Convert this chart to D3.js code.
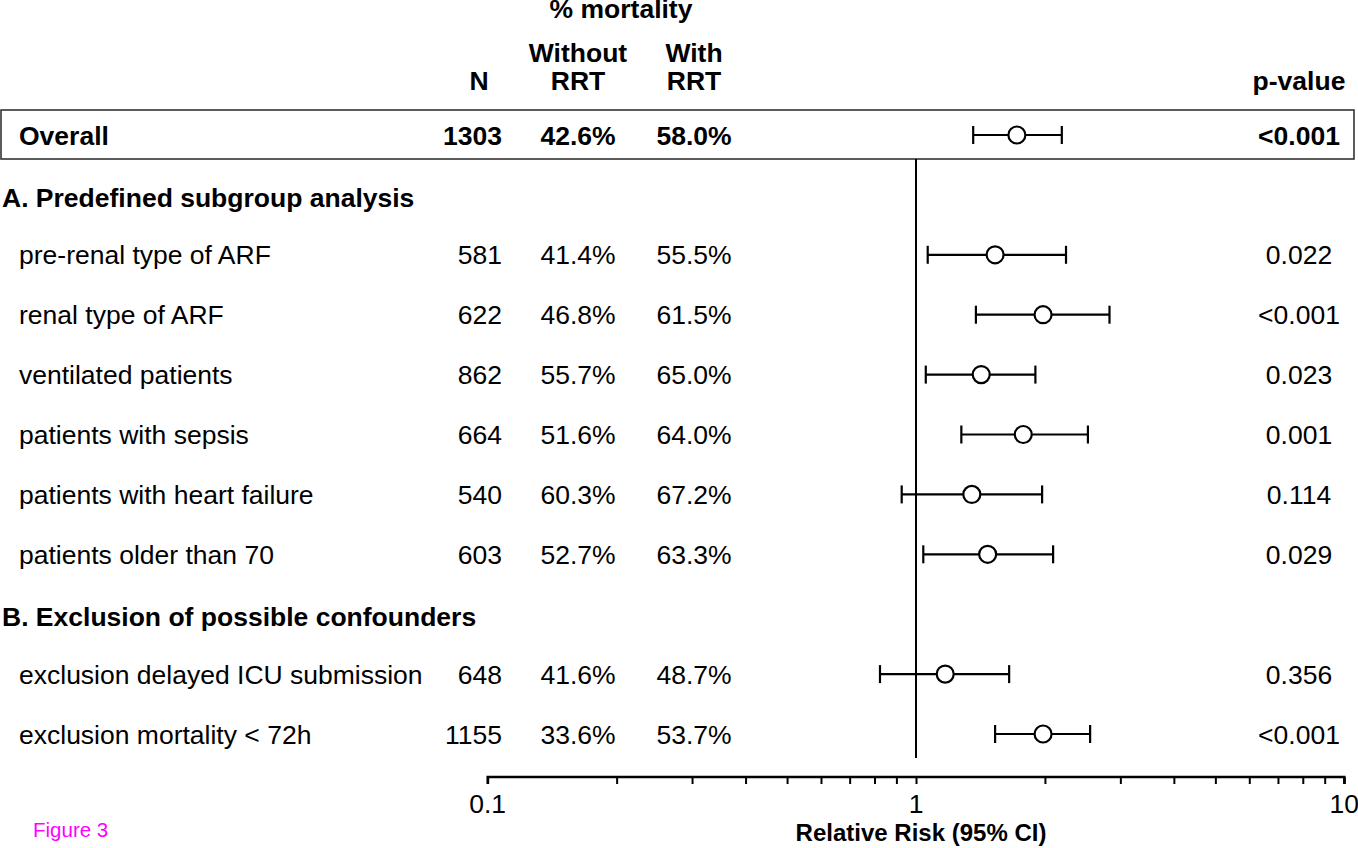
<!DOCTYPE html>
<html>
<head>
<meta charset="utf-8">
<script src="https://cdn.jsdelivr.net/npm/d3@7"></script>
<style>
  html, body { margin: 0; padding: 0; background: #fff; }
  svg { display: block; }
  text { font-family: "Liberation Sans", Arial, Helvetica, sans-serif; fill: #000; }
</style>
</head>
<body>
<svg id="chart" width="1358" height="848"></svg>
<script>
// ---------- data ----------
const rowIds      = ["overall", "hdrA", "prerenal", "renal", "ventilated", "sepsis", "heart", "older", "hdrB", "delayed", "mort72"];
const rowLabels   = ["Overall", "A. Predefined subgroup analysis", "pre-renal type of ARF", "renal type of ARF",
                     "ventilated patients", "patients with sepsis", "patients with heart failure", "patients older than 70",
                     "B. Exclusion of possible confounders", "exclusion delayed ICU submission", "exclusion mortality < 72h"];
const rowKinds    = ["overall", "header", "item", "item", "item", "item", "item", "item", "header", "item", "item"];

const dataIds     = ["overall", "prerenal", "renal", "ventilated", "sepsis", "heart", "older", "delayed", "mort72"];
const nValues     = [1303, 581, 622, 862, 664, 540, 603, 648, 1155];
const withoutRRT  = [42.6, 41.4, 46.8, 55.7, 51.6, 60.3, 52.7, 41.6, 33.6];
const withRRT     = [58.0, 55.5, 61.5, 65.0, 64.0, 67.2, 63.3, 48.7, 53.7];
const relRisk     = [1.72, 1.53, 1.98, 1.42, 1.78, 1.35, 1.47, 1.17, 1.98];
const ciLow       = [1.36, 1.065, 1.38, 1.054, 1.276, 0.926, 1.04, 0.824, 1.53];
const ciHigh      = [2.19, 2.24, 2.83, 1.90, 2.52, 1.97, 2.09, 1.65, 2.55];
const pValues     = ["<0.001", "0.022", "<0.001", "0.023", "0.001", "0.114", "0.029", "0.356", "<0.001"];

const axisMajorTicks = [0.1, 1, 10];
const axisMinorTicks = [0.2, 0.3, 0.4, 0.5, 0.6, 0.7, 0.8, 0.9, 2, 3, 4, 5, 6, 7, 8, 9];
const axisTickLabels = ["0.1", "1", "10"];

// ---------- drawing ----------
const svg = d3.select("#chart");
const FS = 26.5;

const x = d3.scaleLog().domain([0.1, 10]).range([487.7, 1344.3]);
const y = d3.scalePoint().domain(rowIds).range([135, 734]);

const colLabelX = 19, colHeaderX = 2;
const colN = 502, colWithout = 578, colWith = 694, colP = 1299;

// column headers
const hdr = svg.append("g").attr("font-weight", "bold").attr("font-size", FS).attr("text-anchor", "middle");
hdr.append("text").attr("x", 621).attr("y", 18).text("% mortality");
hdr.append("text").attr("x", colWithout).attr("y", 62).text("Without");
hdr.append("text").attr("x", colWithout).attr("y", 90).text("RRT");
hdr.append("text").attr("x", colWith).attr("y", 62).text("With");
hdr.append("text").attr("x", colWith).attr("y", 90).text("RRT");
hdr.append("text").attr("x", 479).attr("y", 90).text("N");
hdr.append("text").attr("x", colP).attr("y", 90).text("p-value");

// overall box
svg.append("rect")
  .attr("x", 1).attr("y", 110).attr("width", 1353).attr("height", 49)
  .attr("fill", "none").attr("stroke", "#333").attr("stroke-width", 1.6);

// reference line at RR = 1
svg.append("line")
  .attr("x1", x(1)).attr("x2", x(1)).attr("y1", 159).attr("y2", 758)
  .attr("stroke", "#000").attr("stroke-width", 2);

// row labels
svg.append("g").selectAll("text")
  .data(rowIds.map((id, i) => ({ id, label: rowLabels[i], kind: rowKinds[i] })))
  .join("text")
  .attr("x", d => d.kind === "header" ? colHeaderX : colLabelX)
  .attr("y", d => y(d.id) + (d.kind === "header" ? 12 : 9.5))
  .attr("font-size", FS)
  .attr("font-weight", d => d.kind === "item" ? "normal" : "bold")
  .text(d => d.label);

const rows = dataIds.map((id, i) => ({
  id, n: nValues[i], wo: withoutRRT[i], w: withRRT[i],
  rr: relRisk[i], lo: ciLow[i], hi: ciHigh[i], p: pValues[i],
  bold: id === "overall"
}));

const fmtPct = v => v.toFixed(1) + "%";
const tg = svg.append("g").attr("font-size", FS);
const cells = tg.selectAll("g").data(rows).join("g")
  .attr("font-weight", d => d.bold ? "bold" : "normal");
cells.append("text").attr("x", colN).attr("y", d => y(d.id) + 9.5).attr("text-anchor", "end").text(d => d.n);
cells.append("text").attr("x", colWithout).attr("y", d => y(d.id) + 9.5).attr("text-anchor", "middle").text(d => fmtPct(d.wo));
cells.append("text").attr("x", colWith).attr("y", d => y(d.id) + 9.5).attr("text-anchor", "middle").text(d => fmtPct(d.w));
cells.append("text").attr("x", colP).attr("y", d => y(d.id) + 9.5).attr("text-anchor", "middle").text(d => d.p);

// forest marks
const mg = svg.append("g").attr("stroke", "#000").attr("stroke-width", 2.2);
const mk = mg.selectAll("g").data(rows).join("g");
mk.append("line").attr("x1", d => x(d.lo)).attr("x2", d => x(d.hi)).attr("y1", d => y(d.id)).attr("y2", d => y(d.id));
mk.append("line").attr("x1", d => x(d.lo)).attr("x2", d => x(d.lo)).attr("y1", d => y(d.id) - 9).attr("y2", d => y(d.id) + 9);
mk.append("line").attr("x1", d => x(d.hi)).attr("x2", d => x(d.hi)).attr("y1", d => y(d.id) - 9).attr("y2", d => y(d.id) + 9);
mk.append("circle").attr("cx", d => x(d.rr)).attr("cy", d => y(d.id)).attr("r", 8.5).attr("fill", "#fff");

// x axis
const axisY = 777;
const ag = svg.append("g").attr("transform", `translate(0,${axisY})`);
ag.call(d3.axisBottom(x).tickValues(axisMajorTicks.concat(axisMinorTicks)).tickSize(7).tickFormat(""));
ag.select(".domain").attr("d", `M${x(0.1)},7V0H${x(10)}V7`).attr("stroke", "#000").attr("stroke-width", 2.5);
ag.selectAll(".tick line").attr("stroke", "#000").attr("stroke-width", 2);
ag.selectAll(".tick text").remove();
svg.append("g").attr("font-size", FS).attr("text-anchor", "middle")
  .selectAll("text").data(axisMajorTicks).join("text")
  .attr("x", d => x(d)).attr("y", 813)
  .text((d, i) => axisTickLabels[i]);

svg.append("text").attr("x", 921).attr("y", 841).attr("text-anchor", "middle")
  .attr("font-weight", "bold").attr("font-size", 24).text("Relative Risk (95% CI)");

svg.append("text").attr("x", 33).attr("y", 837).attr("font-size", 20.5)
  .style("fill", "#ff00ff").text("Figure 3");
</script>
</body>
</html>
